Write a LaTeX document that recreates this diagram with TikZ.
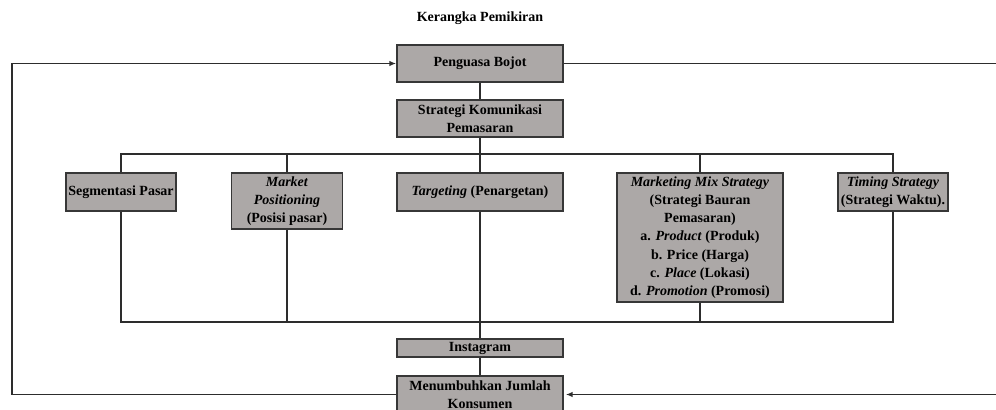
\documentclass[tikz,border=0pt]{standalone}
\usepackage{fontspec}
\setmainfont{Liberation Serif}
\usetikzlibrary{arrows.meta}
\definecolor{boxfill}{RGB}{172,168,167}
\definecolor{boxline}{RGB}{55,55,55}
\definecolor{conn}{RGB}{45,45,45}
\tikzset{
  pbox/.style={draw=boxline, fill=boxfill, line width=1.3pt, align=center, inner sep=0pt,
    font=\fontsize{10.5pt}{13.7pt}\selectfont\bfseries},
  conline/.style={draw=conn, line width=0.9pt},
  arr/.style={conline, -{Latex[length=5pt,width=4pt]}},
  titletext/.style={font=\fontsize{10.5pt}{13pt}\selectfont\bfseries}
}
\newcommand{\bi}[1]{\textbf{\textit{#1}}}
\begin{document}
\begin{tikzpicture}[x=0.75pt,y=-0.75pt]
\clip (0,0) rectangle (996,410);
\fill[white] (0,0) rectangle (996,410);

\node[titletext] (title) at (480,18.5) {Kerangka Pemikiran};

\node[pbox, minimum width={166*0.75pt}, minimum height={37*0.75pt}] (peng) at (480,63.5) {Penguasa Bojot};
\node[pbox, minimum width={166*0.75pt}, minimum height={37*0.75pt}] (strat) at (480,118.5) {Strategi Komunikasi\\Pemasaran};

\node[pbox, minimum width={110*0.75pt}, minimum height={38*0.75pt}] (seg) at (121,192) {Segmentasi Pasar};
\node[pbox, minimum width={111*0.75pt}, minimum height={56*0.75pt}] (mp) at (287,201) {\bi{Market}\\\bi{Positioning}\\(Posisi pasar)};
\node[pbox, minimum width={166*0.75pt}, minimum height={38*0.75pt}] (targ) at (480,192) {\bi{Targeting} (Penargetan)};
\node[pbox, minimum width={166*0.75pt}, minimum height={129*0.75pt}] (mm) at (700,237.5) {\bi{Marketing Mix Strategy}\\(Strategi Bauran\\Pemasaran)\\a. \bi{Product} (Produk)\\b. Price (Harga)\\c. \bi{Place} (Lokasi)\\d. \bi{Promotion} (Promosi)};
\node[pbox, minimum width={110*0.75pt}, minimum height={38*0.75pt}] (tim) at (893,192) {\bi{Timing Strategy}\\(Strategi Waktu).};

\node[pbox, minimum width={166*0.75pt}, minimum height={18*0.75pt}] (insta) at (480,348) {Instagram};
\node[pbox, minimum width={166*0.75pt}, minimum height={37*0.75pt}] (menum) at (480,394.5) {Menumbuhkan Jumlah\\Konsumen};

\coordinate (busT) at (480,154);
\coordinate (busB) at (480,322);
\coordinate (L) at (12,63.5);
\coordinate (R1) at (998,63.5);
\coordinate (R2) at (998,394.5);

% top links
\draw[conline] (peng.south) -- (strat.north);
\draw[conline] (strat.south) -- (busT);
\draw[conline] (seg.north) -- (seg.north |- busT) -- (tim.north |- busT) -- (tim.north);
\draw[conline] (mp.north) -- (mp.north |- busT);
\draw[conline] (busT) -- (targ.north);
\draw[conline] (mm.north) -- (mm.north |- busT);

% bottom links
\draw[conline] (seg.south) -- (seg.south |- busB) -- (tim.south |- busB) -- (tim.south);
\draw[conline] (mp.south) -- (mp.south |- busB);
\draw[conline] (mm.south) -- (mm.south |- busB);
\draw[conline] (targ.south) -- (insta.north);
\draw[conline] (insta.south) -- (menum.north);

% feedback loops
\draw[arr] (menum.west) -| (L) -- (peng.west);
\draw[conline] (peng.east) -- (R1);
\draw[arr] (R2) -- ([xshift=1.5pt]menum.east);
\end{tikzpicture}
\end{document}
